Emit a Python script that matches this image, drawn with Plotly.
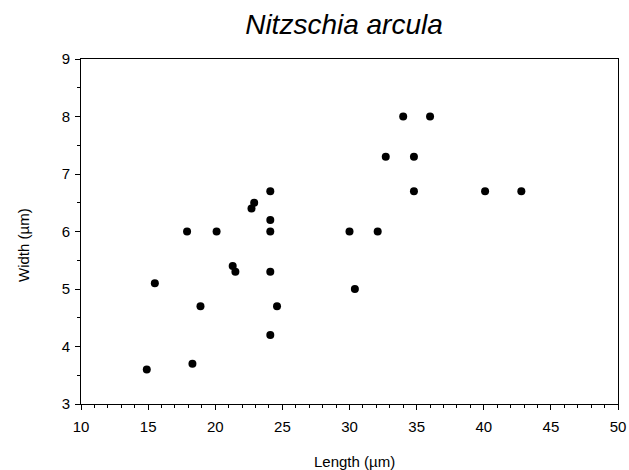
import plotly.graph_objects as go

# Valve measurements of Nitzschia arcula
length_um = [14.9, 15.5, 17.9, 18.3, 18.9, 20.1, 21.3, 21.5, 22.7, 22.9,
             24.1, 24.1, 24.1, 24.1, 24.6, 24.1, 34.0, 36.0, 32.7, 34.8,
             34.8, 40.1, 42.8, 30.0, 32.1, 30.4]
width_um = [3.6, 5.1, 6.0, 3.7, 4.7, 6.0, 5.4, 5.3, 6.4, 6.5,
            6.7, 6.2, 6.0, 5.3, 4.7, 4.2, 8.0, 8.0, 7.3, 7.3,
            6.7, 6.7, 6.7, 6.0, 6.0, 5.0]

x_ticks = [10, 15, 20, 25, 30, 35, 40, 45, 50]
y_ticks = [3, 4, 5, 6, 7, 8, 9]

W, H = 629, 470
L, R, T, B = 81, 11, 59, 66
font_family = "Liberation Sans, Arial, sans-serif"

fig = go.Figure(
    go.Scatter(
        x=length_um,
        y=width_um,
        mode="markers",
        marker=dict(color="black", size=8, line=dict(width=0)),
        showlegend=False,
    )
)

axis_common = dict(
    showgrid=False,
    zeroline=False,
    showline=True,
    linecolor="black",
    linewidth=1,
    mirror=True,
    ticks="outside",
    tickcolor="black",
    tickwidth=1,
    ticklen=5,
    automargin=False,
    tickfont=dict(family=font_family, size=15, color="black"),
)

fig.update_layout(
    width=W,
    height=H,
    margin=dict(l=L, r=R, t=T, b=B),
    paper_bgcolor="white",
    plot_bgcolor="white",
    font=dict(family=font_family, color="black"),
    title=dict(
        text="<i>Nitzschia arcula</i>",
        x=344 / W,
        xanchor="center",
        y=1 - 24 / H,
        yanchor="middle",
        font=dict(family=font_family, size=28, color="black"),
    ),
    xaxis=dict(
        axis_common,
        range=[10, 50],
        tickvals=x_ticks,
        ticktext=[str(v) for v in x_ticks],
        ticklabelstandoff=4,
        minor=dict(dtick=1, ticks="outside", ticklen=3, tickcolor="black", showgrid=False),
    ),
    yaxis=dict(
        axis_common,
        range=[3, 9],
        tickvals=y_ticks,
        ticktext=[str(v) for v in y_ticks],
        ticklabelstandoff=2,
        minor=dict(dtick=0.5, ticks="outside", ticklen=3, tickcolor="black", showgrid=False),
    ),
    annotations=[
        dict(
            text="Length (µm)",
            xref="paper", yref="paper",
            x=(354 - L) / (W - L - R),
            y=-(461 - (H - B)) / (H - T - B),
            xanchor="center", yanchor="middle",
            showarrow=False,
            font=dict(family=font_family, size=15, color="black"),
        ),
        dict(
            text="Width (µm)",
            xref="paper", yref="paper",
            x=-(L - 23) / (W - L - R),
            y=((H - B) - 245) / (H - T - B),
            xanchor="center", yanchor="middle",
            textangle=-90,
            showarrow=False,
            font=dict(family=font_family, size=15, color="black"),
        ),
    ],
)

fig.write_html("out.html")
